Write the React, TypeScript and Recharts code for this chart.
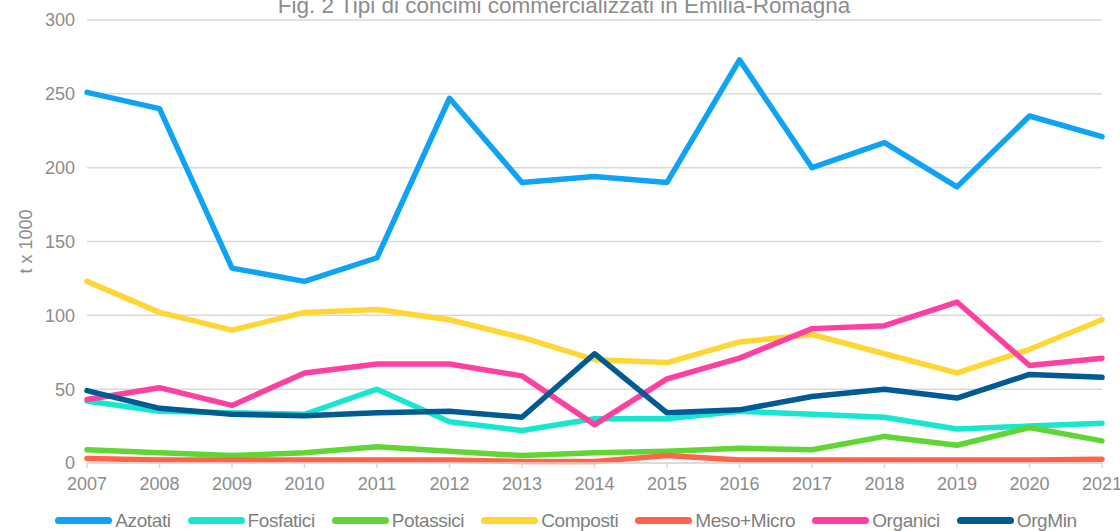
import React from 'react';
import { LineChart, Line, XAxis, YAxis, CartesianGrid, Legend } from 'recharts';

const years = [2007, 2008, 2009, 2010, 2011, 2012, 2013, 2014, 2015, 2016, 2017, 2018, 2019, 2020, 2021];
const azotati = [251, 240, 132, 123, 139, 247, 190, 194, 190, 273, 200, 217, 187, 235, 221];
const fosfatici = [42, 35, 34, 33, 50, 28, 22, 30, 30, 35, 33, 31, 23, 25, 27];
const potassici = [9, 7, 5, 7, 11, 8, 5, 7, 8, 10, 9, 18, 12, 24, 15];
const composti = [123, 102, 90, 102, 104, 97, 85, 70, 68, 82, 87, 74, 61, 77, 97];
const mesoMicro = [3, 2, 2, 2, 2, 2, 1, 1, 5, 2, 2, 2, 2, 2, 2.5];
const organici = [43, 51, 39, 61, 67, 67, 59, 26, 57, 71, 91, 93, 109, 66, 71];
const orgMin = [49, 37, 33, 32, 34, 35, 31, 74, 34, 36, 45, 50, 44, 60, 58];
const yTicks = [0, 50, 100, 150, 200, 250, 300];

const seriesNames = ['Azotati', 'Fosfatici', 'Potassici', 'Composti', 'Meso+Micro', 'Organici', 'OrgMin'];
const seriesValues = [azotati, fosfatici, potassici, composti, mesoMicro, organici, orgMin];
const seriesColors = ['#0fa3f5', '#17e6d0', '#5fd634', '#ffd633', '#ff644a', '#ff40a0', '#005a94'];

const data = years.map((year, i) => {
  const row: Record<string, number> = { year };
  seriesNames.forEach((name, s) => {
    row[name] = seriesValues[s][i];
  });
  return row;
});

const FONT = '"Liberation Sans", Arial, sans-serif';

const renderLegend = () => (
  <div
    style={{
      display: 'flex',
      justifyContent: 'center',
      alignItems: 'center',
      height: 38,
      paddingTop: 17,
      boxSizing: 'border-box',
      fontFamily: FONT,
      fontSize: 19,
      letterSpacing: -0.4,
      color: '#7f7f7f',
      paddingLeft: 30,
    }}
  >
    {seriesNames.map((name, i) => (
      <div key={name} style={{ display: 'flex', alignItems: 'center', marginRight: i < seriesNames.length - 1 ? 17 : 0 }}>
        <div style={{ width: 57, height: 6.5, borderRadius: 4, background: seriesColors[i], marginRight: 3 }} />
        <span>{name}</span>
      </div>
    ))}
  </div>
);

export default function App() {
  return (
    <div style={{ position: 'absolute', left: 0, top: 0, width: 1120, height: 531, background: '#fff' }}>
      <div
        style={{
          position: 'absolute',
          left: 0,
          top: -7,
          width: 1120,
          textAlign: 'center',
          fontFamily: FONT,
          fontSize: 22.5,
          color: '#8c8c8c',
          paddingLeft: 4,
          lineHeight: '26px',
          zIndex: 2,
          whiteSpace: 'nowrap',
        }}
      >
        Fig. 2 Tipi di concimi commercializzati in Emilia-Romagna
      </div>
      <LineChart width={1120} height={531} data={data} margin={{ top: 20, right: 18, bottom: 0, left: 0 }}>
        <CartesianGrid vertical={false} stroke="#d9d9d9" strokeWidth={1.5} />
        <XAxis
          dataKey="year"
          type="number"
          domain={[2007, 2021]}
          ticks={years}
          interval={0}
          height={30}
          axisLine={{ stroke: '#d9d9d9', strokeWidth: 1.5 }}
          tickLine={{ stroke: '#d9d9d9', strokeWidth: 1.5 }}
          tickSize={5}
          tickMargin={9}
          tick={{ fill: '#8c8c8c', fontSize: 18, fontFamily: FONT }}
        />
        <YAxis
          domain={[0, 300]}
          ticks={yTicks}
          width={87}
          axisLine={false}
          tickLine={false}
          tickSize={6}
          tickMargin={6}
          tick={{ fill: '#8c8c8c', fontSize: 18, fontFamily: FONT }}
          label={{
            value: 't x 1000',
            angle: -90,
            position: 'insideLeft',
            offset: 26,
            style: { fill: '#8c8c8c', fontSize: 18, fontFamily: FONT, textAnchor: 'middle' },
          }}
        />
        <Legend verticalAlign="bottom" height={38} content={renderLegend} wrapperStyle={{ bottom: 0 }} />
        {seriesNames.map((name, i) => (
          <Line
            key={name}
            type="linear"
            dataKey={name}
            stroke={seriesColors[i]}
            strokeWidth={5.5}
            dot={false}
            activeDot={false}
            strokeLinejoin="round"
            strokeLinecap="round"
            isAnimationActive={false}
          />
        ))}
      </LineChart>
    </div>
  );
}
